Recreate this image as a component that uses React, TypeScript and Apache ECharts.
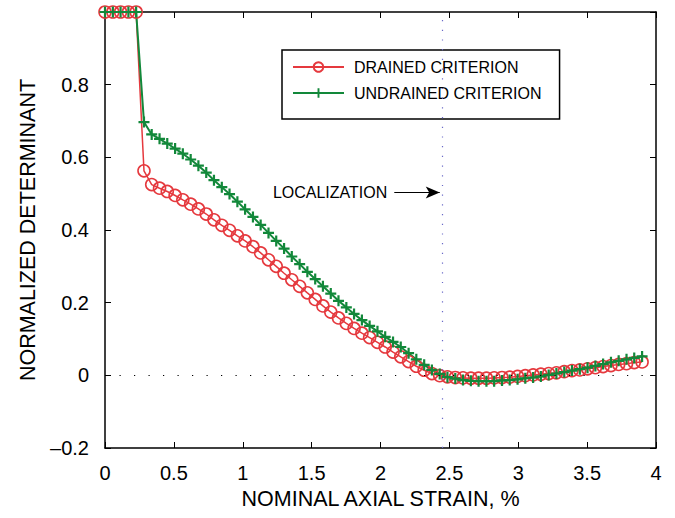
import React, { useEffect, useRef } from "react";
import * as echarts from "echarts";

// Nominal axial strain (%) at each computed step
const strain = [
  0.0, 0.057, 0.113, 0.17, 0.226, 0.283, 0.339, 0.396, 0.452, 0.509,
  0.565, 0.622, 0.678, 0.735, 0.791, 0.848, 0.904, 0.961, 1.017, 1.074,
  1.13, 1.187, 1.243, 1.3, 1.356, 1.413, 1.469, 1.526, 1.582, 1.639,
  1.695, 1.752, 1.808, 1.865, 1.921, 1.978, 2.034, 2.091, 2.147, 2.204,
  2.26, 2.317, 2.373, 2.43, 2.486, 2.543, 2.599, 2.656, 2.712, 2.769,
  2.825, 2.882, 2.938, 2.995, 3.051, 3.108, 3.164, 3.221, 3.277, 3.334,
  3.39, 3.447, 3.503, 3.56, 3.616, 3.673, 3.729, 3.786, 3.842, 3.899,
];

const drained = [
  1.0, 1.0, 1.0, 1.0, 1.0, 0.563, 0.525, 0.515, 0.506, 0.495,
  0.483, 0.471, 0.458, 0.444, 0.428, 0.413, 0.399, 0.384, 0.37, 0.354,
  0.337, 0.318, 0.3, 0.281, 0.263, 0.245, 0.227, 0.209, 0.191, 0.174,
  0.158, 0.143, 0.129, 0.116, 0.104, 0.091, 0.078, 0.064, 0.051, 0.038,
  0.025, 0.014, 0.005, -0.001, -0.004, -0.006, -0.007, -0.008, -0.008, -0.008,
  -0.007, -0.006, -0.005, -0.003, -0.001, 0.001, 0.003, 0.005, 0.007, 0.01,
  0.013, 0.015, 0.018, 0.021, 0.024, 0.027, 0.03, 0.032, 0.035, 0.037,
];

const undrained = [
  1.0, 1.0, 1.0, 1.0, 1.0, 0.697, 0.663, 0.651, 0.638, 0.624,
  0.61, 0.594, 0.577, 0.558, 0.537, 0.518, 0.499, 0.478, 0.457, 0.436,
  0.414, 0.392, 0.37, 0.349, 0.327, 0.306, 0.285, 0.265, 0.245, 0.225,
  0.205, 0.187, 0.169, 0.152, 0.136, 0.121, 0.106, 0.092, 0.078, 0.061,
  0.044, 0.029, 0.015, 0.004, -0.005, -0.009, -0.013, -0.015, -0.016, -0.016,
  -0.016, -0.014, -0.013, -0.011, -0.008, -0.006, -0.003, 0.001, 0.005, 0.009,
  0.013, 0.017, 0.021, 0.026, 0.031, 0.036, 0.04, 0.044, 0.048, 0.052,
];

const seriesNames = ["DRAINED CRITERION", "UNDRAINED CRITERION"];
const localizationStrain = 2.45;
const localizationLabel = "LOCALIZATION";
const arrowFrom = [2.1, 0.503];
const arrowTo = [2.43, 0.503];

const RED = "#e5393e";
const GREEN = "#12883a";
const SANS = "'Liberation Sans', Arial, Helvetica, sans-serif";
const PLUS = "path://M4,0H6V4H10V6H6V10H4V6H0V4H4Z";

const fmtY = (v: number) => {
  if (Math.abs(v - 1) < 1e-9) return "";
  const r = Number(v.toFixed(1));
  if (r === 0) return "0";
  return r < 0 ? "\u2013" + String(Math.abs(r)) : String(r);
};

export default function App() {
  const ref = useRef<HTMLDivElement>(null);
  useEffect(() => {
    if (!ref.current) return;
    const chart = echarts.init(ref.current, null, { renderer: "svg" });
    const axisLine = { show: true, onZero: false, lineStyle: { color: "#000", width: 1.5 } };
    const tick = { show: true, inside: true, length: 6, lineStyle: { color: "#000", width: 1 } };
    chart.setOption({
      animation: false,
      backgroundColor: "#fff",
      grid: { left: 105, right: 19, top: 12, bottom: 70, containLabel: false },
      legend: {
        orient: "vertical",
        left: 282,
        top: 50,
        padding: [9, 18, 18, 10],
        itemGap: 10,
        itemWidth: 51,
        itemHeight: 12,
        borderColor: "#000",
        borderWidth: 1.5,
        backgroundColor: "#fff",
        textStyle: { fontFamily: SANS, fontSize: 16, color: "#000", padding: [0, 0, 0, 5] },
        data: seriesNames,
      },
      xAxis: [
        {
          type: "value",
          min: 0,
          max: 4,
          interval: 0.5,
          name: "NOMINAL AXIAL STRAIN, %",
          nameLocation: "middle",
          nameGap: 38,
          nameTextStyle: { fontFamily: SANS, fontSize: 21.5, color: "#000" },
          axisLine,
          axisTick: tick,
          splitLine: { show: false },
          axisLabel: { fontFamily: SANS, fontSize: 20, color: "#000", margin: 15 },
        },
        {
          type: "value",
          position: "top",
          min: 0,
          max: 4,
          interval: 0.5,
          axisLine,
          axisTick: tick,
          splitLine: { show: false },
          axisLabel: { show: false },
        },
      ],
      yAxis: [
        {
          type: "value",
          min: -0.2,
          max: 1.0,
          interval: 0.2,
          name: "NORMALIZED DETERMINANT",
          nameLocation: "middle",
          nameGap: 60,
          nameTextStyle: { fontFamily: SANS, fontSize: 21.5, color: "#000" },
          axisLine,
          axisTick: tick,
          splitLine: { show: false },
          axisLabel: { fontFamily: SANS, fontSize: 20, color: "#000", margin: 16, formatter: fmtY },
        },
        {
          type: "value",
          position: "right",
          min: -0.2,
          max: 1.0,
          interval: 0.2,
          axisLine,
          axisTick: tick,
          splitLine: { show: false },
          axisLabel: { show: false },
        },
      ],
      series: [
        {
          name: seriesNames[0],
          type: "line",
          clip: false,
          data: strain.map((x, i) => [x, drained[i]]),
          symbol: "circle",
          symbolSize: 12,
          showAllSymbol: true,
          lineStyle: { color: RED, width: 1.5 },
          itemStyle: { color: "rgba(255,255,255,0)", borderColor: RED, borderWidth: 1.6 },
          markLine: {
            silent: true,
            animation: false,
            symbol: "none",
            label: { show: false },
            data: [
              [
                {
                  coord: [localizationStrain, -0.2],
                  symbol: "none",
                  lineStyle: { color: "#6a6ac8", width: 1.2, type: [1.2, 8.5] },
                },
                { coord: [localizationStrain, 1.0], symbol: "none" },
              ],
              [
                {
                  coord: [0, 0],
                  symbol: "none",
                  lineStyle: { color: "#000", width: 1.2, type: [1.2, 13.3] },
                },
                { coord: [4, 0], symbol: "none" },
              ],
            ],
          },
        },
        {
          name: seriesNames[1],
          type: "line",
          clip: false,
          data: strain.map((x, i) => [x, undrained[i]]),
          symbol: PLUS,
          symbolSize: 11,
          showAllSymbol: true,
          lineStyle: { color: GREEN, width: 2 },
          itemStyle: { color: GREEN },
          markLine: {
            silent: true,
            animation: false,
            data: [
              [
                { coord: arrowFrom, symbol: "none" },
                { coord: arrowTo, symbol: "arrow", symbolSize: [9, 14] },
              ],
            ],
            lineStyle: { color: "#000", width: 1.2, type: "solid" },
            label: {
              show: true,
              position: "start",
              distance: 7,
              formatter: localizationLabel,
              fontFamily: SANS,
              fontSize: 16,
              color: "#000",
            },
          },
        },
      ],
    });
    return () => chart.dispose();
  }, []);
  return (
    <div
      ref={ref}
      style={{ position: "fixed", left: 0, top: 0, width: 675, height: 518, background: "#fff" }}
    />
  );
}
